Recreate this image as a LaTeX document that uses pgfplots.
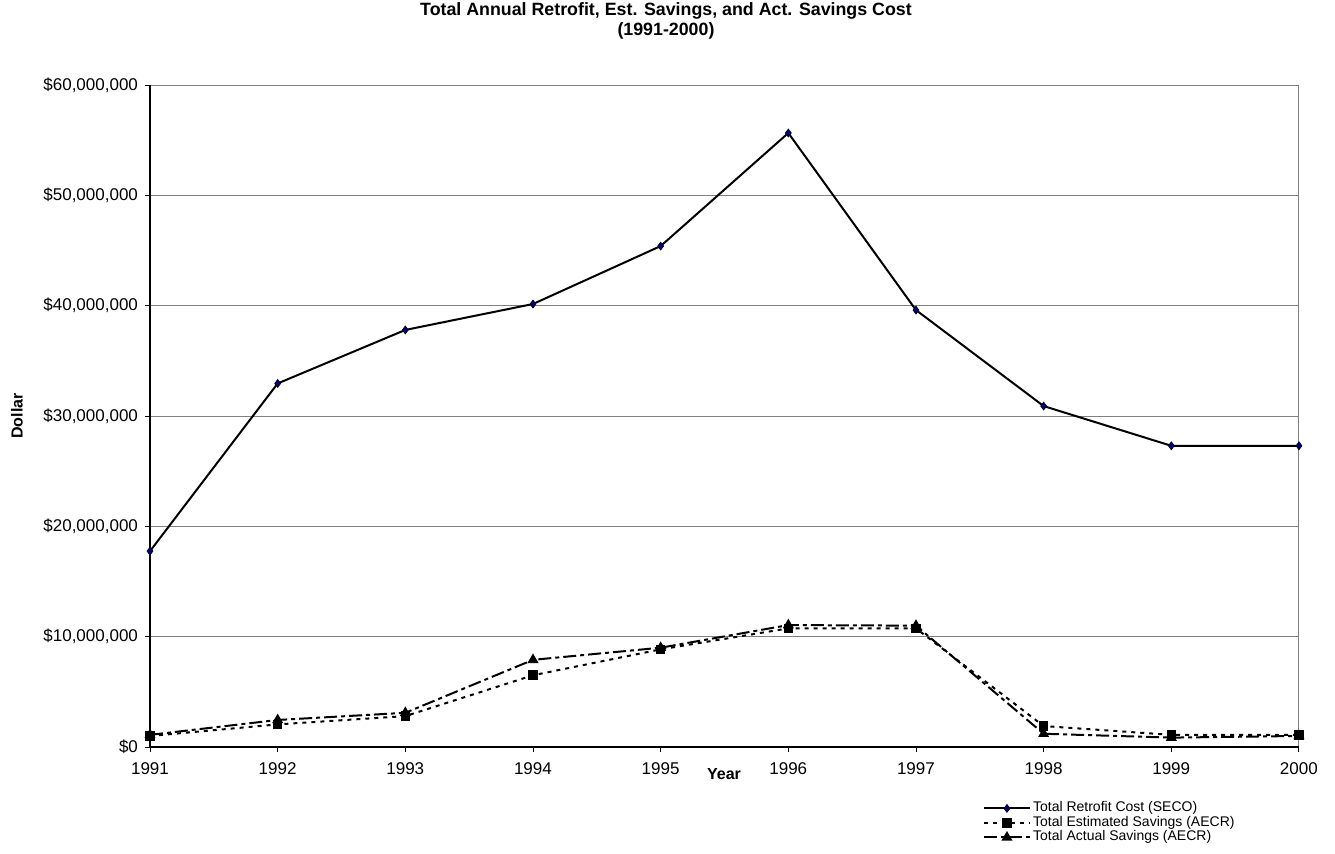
\documentclass[border=0pt]{standalone}
\usepackage{fontspec}
\setmainfont{Liberation Sans}
\usepackage{pgfplots}
\pgfplotsset{compat=1.18}
\usetikzlibrary{calc}
\definecolor{navymark}{RGB}{0,0,128}

\begin{document}
\begin{tikzpicture}
  \begin{axis}[
      name=ax,
      scale only axis,
      width=574.5pt, height=331pt,
      xmin=1991, xmax=2000,
      ymin=0, ymax=60000000,
      xtick={1991,...,2000},
      xticklabel style={/pgf/number format/1000 sep={}, yshift=-2pt},
      ytick={0,10000000,20000000,30000000,40000000,50000000,60000000},
      yticklabels={\$0,{\$10,000,000},{\$20,000,000},{\$30,000,000},{\$40,000,000},{\$50,000,000},{\$60,000,000}},
      scaled y ticks=false,
      /pgf/number format/assume math mode=true,
      ticklabel style={font=\fontsize{8.5}{10}\selectfont},
      xtick pos=bottom, ytick pos=left,
      tick align=outside,
      major tick length=2.5pt,
      tick style={black, line width=0.4pt},
      ymajorgrids,
      grid style={gray, line width=0.5pt},
      axis line style={gray, line width=0.5pt},
      clip=false,
      legend style={draw=none, fill=none, at={(1,0)}, anchor=north east,
        xshift=-32pt, yshift=-27pt,
        font=\fontsize{7}{7}\selectfont, row sep=0.25pt, inner sep=0pt,
        nodes={text height=5.2pt, text depth=1.8pt, inner sep=0pt}},
      legend cell align=left,
      legend image code/.code={
        \draw[mark repeat=2,mark phase=2,#1] plot coordinates {(0cm,0cm) (0.4cm,0cm) (0.8cm,0cm)};
      },
    ]
    \addplot[black, line width=1pt, mark=diamond*, mark size=2pt,
      mark options={solid, fill=navymark, draw=black, line width=0.3pt}]
      coordinates {
        (1991,17750000) (1992,32950000) (1993,37800000) (1994,40150000)
        (1995,45400000) (1996,55650000) (1997,39600000) (1998,30900000)
        (1999,27300000) (2000,27300000)};
    \addlegendentry{\,Total Retrofit Cost (SECO)}
    \addplot[black, line width=1pt, dash pattern=on 2pt off 2.5pt,
      mark=square*, mark size=1.9pt, mark options={solid}]
      coordinates {
        (1991,1000000) (1992,2050000) (1993,2800000) (1994,6500000)
        (1995,8850000) (1996,10750000) (1997,10750000) (1998,1900000)
        (1999,1100000) (2000,1100000)};
    \addlegendentry{\,Total Estimated Savings (AECR)}
    \addplot[black, line width=1pt, dash pattern=on 6.5pt off 2pt on 2pt off 2pt,
      mark=triangle*, mark size=2.2pt, mark options={solid}]
      coordinates {
        (1991,1100000) (1992,2450000) (1993,3100000) (1994,7900000)
        (1995,9000000) (1996,11050000) (1997,11000000) (1998,1200000)
        (1999,850000) (2000,1000000)};
    \addlegendentry{\,Total Actual Savings (AECR)}
    \draw[black, line width=0.6pt] (axis cs:1991,60000000) -- (axis cs:1991,0) -- (axis cs:2000,0);
  \end{axis}
  \coordinate (o) at (ax.south west);
  % picture frame: 1px = 0.5pt, axis lower left at px (150,747)
  \node[font=\bfseries\fontsize{8.9}{10}\selectfont, align=center] at ($(o)+(258pt,363pt)$)
    {Total Annual Retrofit, Est. Savings, and Act. Savings Cost\\(1991-2000)};
  \node[font=\bfseries\fontsize{8}{9}\selectfont, rotate=90] at ($(o)+(-66.5pt,165.5pt)$) {Dollar};
  \node[font=\bfseries\fontsize{8}{9}\selectfont] at ($(o)+(287pt,-13.5pt)$) {Year};
  \pgfresetboundingbox
  \path[use as bounding box] ($(o)+(-75pt,-53pt)$) rectangle ($(o)+(592.5pt,373.5pt)$);
\end{tikzpicture}
\end{document}
